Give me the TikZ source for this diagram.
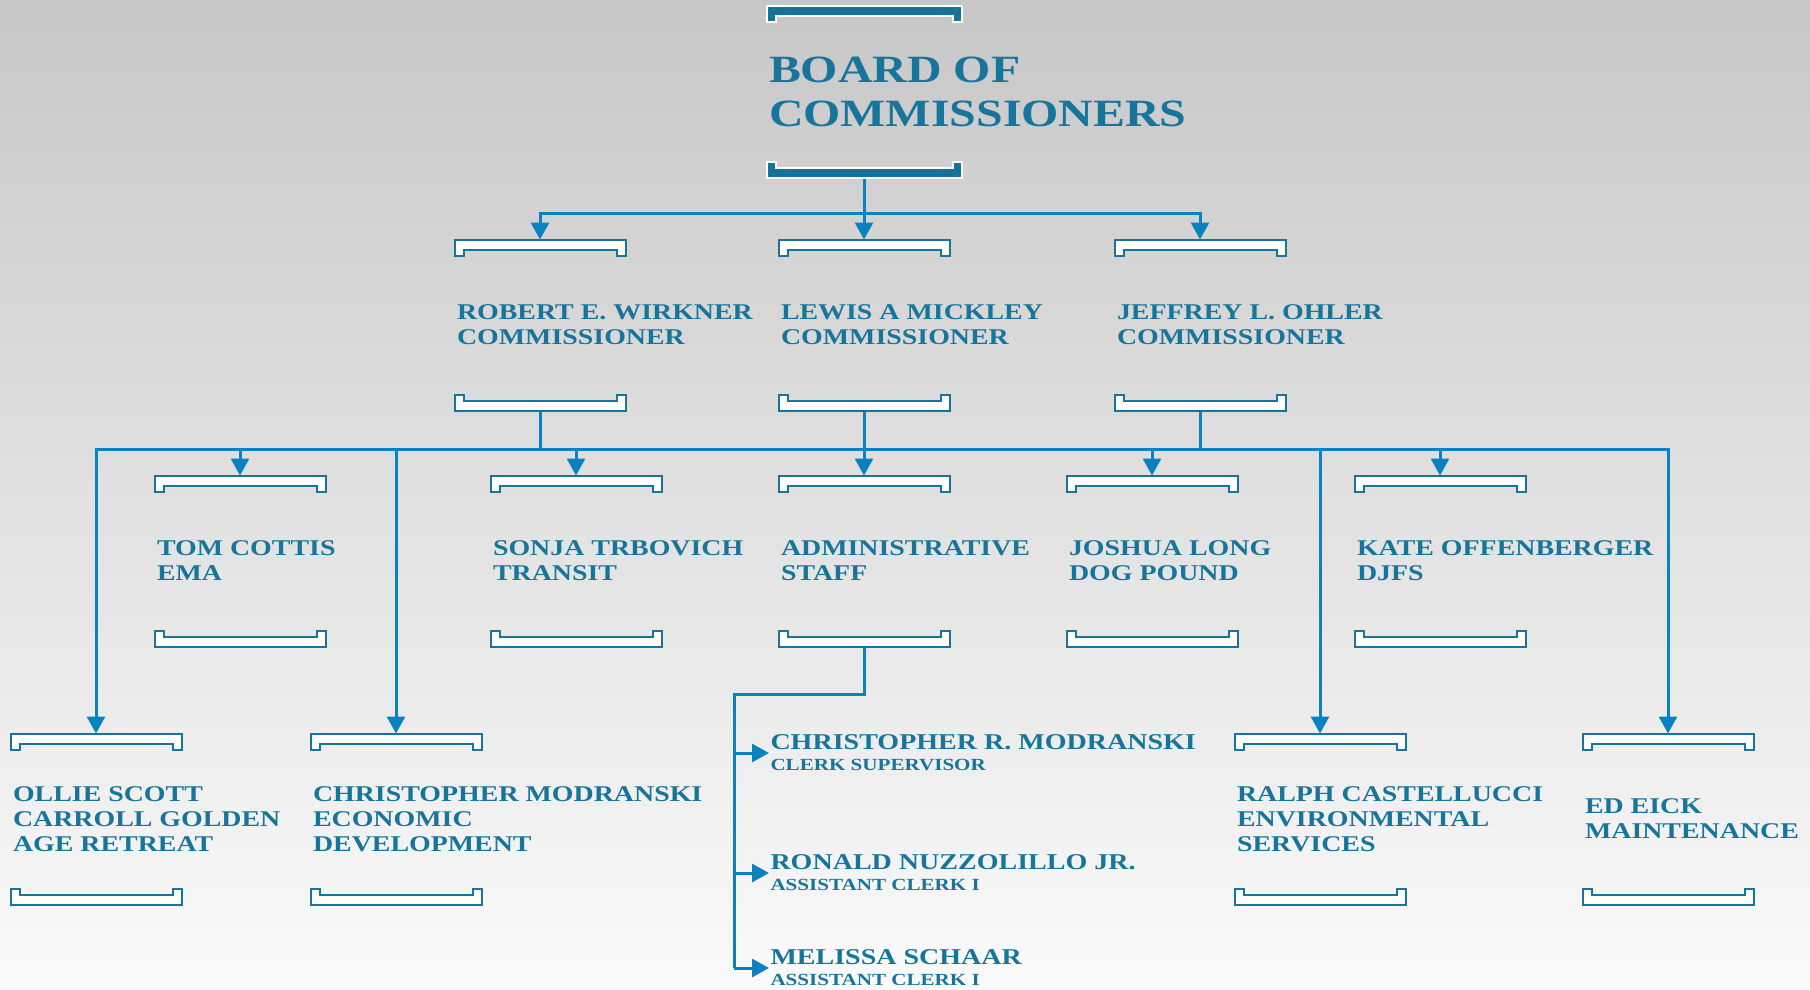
\documentclass[tikz,border=0pt]{standalone}
\usepackage{fontspec}
\setmainfont{Liberation Serif}[FakeStretch=1.24]
\usetikzlibrary{arrows.meta,calc}
\definecolor{myBlue}{HTML}{0A82BF}
\definecolor{myText}{HTML}{17759C}
\definecolor{myDark}{HTML}{15739A}
\definecolor{myTop}{HTML}{C7C7C7}
\definecolor{myBottom}{HTML}{FAFAFA}

\begin{document}
\begin{tikzpicture}[x=1pt, y=-1pt, >={Triangle[length=17pt,width=18pt]}, line width=3pt, myBlue]
  \tikzstyle{box}=[minimum width=168pt, minimum height=168pt, inner sep=0pt]
  \tikzstyle{txt}=[anchor=west, align=left, inner sep=0pt, text=myText, font=\fontsize{22.5}{25}\selectfont\bfseries]
  \tikzstyle{title}=[anchor=west, align=left, inner sep=0pt, text=myText, font=\fontsize{38.6}{44}\selectfont\bfseries]
  \tikzstyle{staff}=[anchor=west, align=left, inner sep=0pt, text=myText, font=\fontsize{22.6}{21}\selectfont\bfseries]
  \tikzstyle{bar}=[draw=myText, fill=white, line width=2pt]
  \tikzstyle{bigbar}=[draw=white, fill=myDark, line width=2pt]

  \shade[top color=myTop, bottom color=myBottom] (0,0) rectangle (1810,990);
  \useasboundingbox (0,0) rectangle (1810,990);

  \node[box, minimum width=192pt] at (864,92) (board) {};

  \node[box] at (540,325) (wirkner) {};
  \node[box] at (864,325) (mickley) {};
  \node[box] at (1200,325) (ohler) {};

  \node[box] at (240,561) (cottis) {};
  \node[box] at (576,561) (trbovich) {};
  \node[box] at (864,561) (admin) {};
  \node[box] at (1152,561) (long) {};
  \node[box] at (1440,561) (offenberger) {};

  \node[box] at (96,819) (scott) {};
  \node[box] at (396,819) (modranski) {};
  \node[box] at (1320,819) (castellucci) {};
  \node[box] at (1668,819) (eick) {};

  \node[staff] at (769,753) (clerk1) {CHRISTOPHER R. MODRANSKI\\{\fontsize{17}{21}\selectfont CLERK SUPERVISOR}};
  \node[staff] at (769,873) (clerk2) {RONALD NUZZOLILLO JR.\\{\fontsize{17}{21}\selectfont ASSISTANT CLERK I}};
  \node[staff] at (769,968) (clerk3) {MELISSA SCHAAR\\{\fontsize{17}{21}\selectfont ASSISTANT CLERK I}};

  \draw[->] (board.south) -- (mickley.north);
  \draw[->] (board.south) -- ++(0,36) -| (wirkner.north);
  \draw[->] (board.south) -- ++(0,36) -| (ohler.north);

  \foreach \n in {scott,modranski,cottis,trbovich}
    \draw[->] (wirkner.south) -- ++(0,39) -| (\n.north);
  \draw (wirkner.south) -- ++(0,39) -| (ohler.south);
  \draw[->] (mickley.south) -- (admin.north);
  \foreach \n in {long,offenberger,castellucci,eick}
    \draw[->] (ohler.south) -- ++(0,39) -| (\n.north);

  \coordinate (split) at (734,694);
  \draw (admin.south) |- (split) -- (split |- clerk3.west);
  \foreach \n in {clerk1,clerk2,clerk3}
    \draw[->] (split |- \n.west) -- (\n.west);

  \foreach \b/\s in {board/bigbar, wirkner/bar, mickley/bar, ohler/bar, cottis/bar, trbovich/bar,
      admin/bar, long/bar, offenberger/bar, scott/bar, modranski/bar, castellucci/bar, eick/bar} {
    \draw[\s] (\b.north west) -- (\b.north east) -- ++(0,16) -- ++(-9,0) -- ++(0,-6)
      -- ($(\b.north west)+(9,10)$) -- ++(0,6) -- ++(-9,0) -- cycle;
    \draw[\s] (\b.south west) -- (\b.south east) -- ++(0,-16) -- ++(-9,0) -- ++(0,6)
      -- ($(\b.south west)+(9,-10)$) -- ++(0,-6) -- ++(-9,0) -- cycle;
  }

  \node[title] at ([xshift=1pt]board.west) (boardT) {BOARD OF\\COMMISSIONERS};

  \node[txt] at ([xshift=1pt]wirkner.west) (wirknerT) {ROBERT E. WIRKNER\\COMMISSIONER};
  \node[txt] at ([xshift=1pt]mickley.west) (mickleyT) {LEWIS A MICKLEY\\COMMISSIONER};
  \node[txt] at ([xshift=1pt]ohler.west) (ohlerT) {JEFFREY L. OHLER\\COMMISSIONER};

  \node[txt] at ([xshift=1pt]cottis.west) (cottisT) {TOM COTTIS\\EMA};
  \node[txt] at ([xshift=1pt]trbovich.west) (trbovichT) {SONJA TRBOVICH\\TRANSIT};
  \node[txt] at ([xshift=1pt]admin.west) (adminT) {ADMINISTRATIVE\\STAFF};
  \node[txt] at ([xshift=1pt]long.west) (longT) {JOSHUA LONG\\DOG POUND};
  \node[txt] at ([xshift=1pt]offenberger.west) (offenbergerT) {KATE OFFENBERGER\\DJFS};

  \node[txt] at ([xshift=1pt]scott.west) (scottT) {OLLIE SCOTT\\CARROLL GOLDEN\\AGE RETREAT};
  \node[txt] at ([xshift=1pt]modranski.west) (modranskiT) {CHRISTOPHER MODRANSKI\\ECONOMIC\\DEVELOPMENT};
  \node[txt] at ([xshift=1pt]castellucci.west) (castellucciT) {RALPH CASTELLUCCI\\ENVIRONMENTAL\\SERVICES};
  \node[txt] at ([xshift=1pt]eick.west) (eickT) {ED EICK\\MAINTENANCE};
\end{tikzpicture}
\end{document}
